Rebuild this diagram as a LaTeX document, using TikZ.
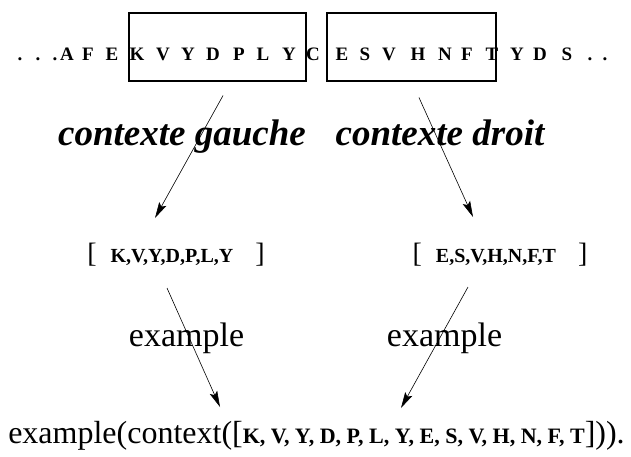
\documentclass[tikz,border=0pt]{standalone}
\usepackage{fontspec}
\setmainfont{Liberation Serif}
\usetikzlibrary{arrows.meta,calc}
\tikzset{
  seqltr/.style={anchor=base, inner sep=0pt, font=\fontsize{19}{19}\selectfont\bfseries},
  ctxbox/.style={draw, line width=1.2pt, minimum height=68pt, inner sep=0pt},
  ctxlab/.style={anchor=base, inner sep=0pt, font=\fontsize{37}{37}\selectfont\bfseries\itshape},
  lst/.style={anchor=base, inner sep=0pt, font=\fontsize{20}{20}\selectfont\bfseries},
  exlab/.style={anchor=base, inner sep=0pt, font=\fontsize{34}{34}\selectfont},
  arr/.style={-{Stealth[length=16pt,width=8pt,inset=3pt]}, line width=0.6pt},
}
\newcommand{\brk}[1]{{\fontsize{28}{28}\selectfont\mdseries #1}}

\begin{document}
\begin{tikzpicture}[x=1pt, y=-1pt]
  \useasboundingbox (0,0) rectangle (631,456);
  % the sequence, one letter at a time
  \foreach \x/\c [count=\i] in {20/.,38/.,55/.,67/A,88/F,112/E,137/K,163/V,188/Y,213/D,
      239/P,263/L,289/Y,313/C,342/E,365/S,389/V,418/H,445/N,467/F,492/T,517/Y,540/D,
      567/S,590/.,605/.}
    \node[seqltr] (s\i) at (\x,60) {\c};
  % left and right windows
  \node[ctxbox, minimum width=177pt] (gbox) at (217.5,47) {};
  \node[ctxbox, minimum width=169pt] (dbox) at (411.5,47) {};
  % labels
  \node[ctxlab] (glab) at (182,145) {contexte gauche};
  \node[ctxlab] (dlab) at (440,145) {contexte droit};
  % the two lists
  \node[lst] (glist) at (176,262) {\brk{[}\hspace{14pt}K,V,Y,D,P,L,Y\hspace{22pt}\brk{]}};
  \node[lst] (dlist) at (500,262) {\brk{[}\hspace{14pt}E,S,V,H,N,F,T\hspace{22pt}\brk{]}};
  \node[exlab] (gex) at (186.5,346) {example};
  \node[exlab] (dex) at (444.5,346) {example};
  % the resulting fact
  \node[anchor=base, inner sep=0pt, font=\fontsize{32}{32}\selectfont] (res) at (316.5,443)
    {example(context([{\bfseries\fontsize{22}{22}\selectfont K, V, Y, D, P, L, Y, E, S, V, H, N, F, T}])).};
  % arrows
  \draw[arr] ($(gbox.south)+(5.5,14)$) -- ($(glist.base)+(-21,-44)$);
  \draw[arr] ($(dbox.south)+(7.5,16)$) -- ($(dlist.base)+(-27,-45)$);
  \draw[arr] ($(glist.base)+(-9,26)$) -- ($(res.base)+(-96.5,-36)$);
  \draw[arr] ($(dlist.base)+(-32,25)$) -- ($(res.base)+(84.5,-35)$);
\end{tikzpicture}
\end{document}
